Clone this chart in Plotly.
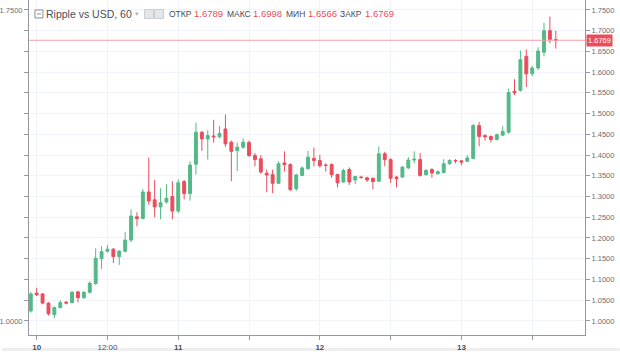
import plotly.graph_objects as go
import pandas as pd

# ---- data (hourly candles, Ripple vs USD) ----
opens = [1.024, 1.067, 1.065, 1.043, 1.015, 1.032, 1.045, 1.044, 1.070, 1.056,
         1.069, 1.090, 1.150, 1.168, 1.173, 1.155, 1.168, 1.195, 1.251, 1.247,
         1.311, 1.292, 1.275, 1.287, 1.300, 1.265, 1.336, 1.307, 1.378, 1.455,
         1.439, 1.446, 1.444, 1.463, 1.431, 1.411, 1.419, 1.430, 1.399, 1.391,
         1.356, 1.353, 1.332, 1.381, 1.377, 1.319, 1.351, 1.367, 1.392, 1.387,
         1.376, 1.377, 1.353, 1.335, 1.365, 1.340, 1.347, 1.345, 1.344, 1.337,
         1.403, 1.389, 1.347, 1.347, 1.369, 1.388, 1.389, 1.353, 1.365, 1.355,
         1.358, 1.379, 1.387, 1.386, 1.385, 1.392, 1.471, 1.447, 1.445, 1.4375,
         1.448, 1.455, 1.554, 1.556, 1.638, 1.596, 1.610, 1.648, 1.700, 1.6789]
highs = [1.070, 1.080, 1.067, 1.045, 1.035, 1.050, 1.048, 1.072, 1.073, 1.072,
         1.095, 1.175, 1.180, 1.183, 1.176, 1.171, 1.215, 1.269, 1.262, 1.318,
         1.394, 1.340, 1.320, 1.330, 1.337, 1.341, 1.340, 1.385, 1.478, 1.458,
         1.460, 1.485, 1.470, 1.498, 1.435, 1.430, 1.440, 1.435, 1.405, 1.400,
         1.365, 1.365, 1.385, 1.409, 1.380, 1.355, 1.373, 1.410, 1.418, 1.400,
         1.380, 1.380, 1.355, 1.367, 1.370, 1.350, 1.350, 1.348, 1.346, 1.421,
         1.408, 1.392, 1.350, 1.373, 1.395, 1.409, 1.405, 1.366, 1.368, 1.363,
         1.390, 1.390, 1.390, 1.388, 1.400, 1.475, 1.480, 1.450, 1.447, 1.452,
         1.470, 1.560, 1.583, 1.652, 1.655, 1.615, 1.660, 1.719, 1.734, 1.6998]
lows = [1.020, 1.060, 1.040, 1.013, 1.007, 1.030, 1.040, 1.042, 1.045, 1.053,
        1.066, 1.087, 1.125, 1.165, 1.140, 1.135, 1.165, 1.190, 1.228, 1.245,
        1.280, 1.250, 1.245, 1.283, 1.245, 1.260, 1.293, 1.290, 1.353, 1.410,
        1.389, 1.430, 1.440, 1.420, 1.337, 1.361, 1.415, 1.395, 1.373, 1.355,
        1.310, 1.308, 1.330, 1.360, 1.313, 1.313, 1.349, 1.365, 1.373, 1.370,
        1.360, 1.345, 1.322, 1.333, 1.328, 1.330, 1.343, 1.335, 1.317, 1.335,
        1.373, 1.333, 1.322, 1.345, 1.366, 1.380, 1.348, 1.350, 1.345, 1.353,
        1.356, 1.377, 1.380, 1.375, 1.383, 1.390, 1.421, 1.435, 1.430, 1.435,
        1.446, 1.452, 1.545, 1.553, 1.564, 1.590, 1.605, 1.638, 1.670, 1.6566]
closes = [1.065, 1.063, 1.043, 1.017, 1.032, 1.044, 1.043, 1.069, 1.056, 1.069,
          1.091, 1.151, 1.167, 1.173, 1.155, 1.168, 1.195, 1.253, 1.247, 1.311,
          1.289, 1.275, 1.285, 1.296, 1.265, 1.333, 1.307, 1.376, 1.455, 1.439,
          1.447, 1.444, 1.452, 1.427, 1.409, 1.419, 1.431, 1.399, 1.389, 1.359,
          1.352, 1.332, 1.379, 1.377, 1.317, 1.352, 1.369, 1.395, 1.387, 1.374,
          1.375, 1.353, 1.333, 1.363, 1.335, 1.348, 1.346, 1.340, 1.336, 1.403,
          1.389, 1.344, 1.343, 1.371, 1.388, 1.390, 1.351, 1.363, 1.357, 1.360,
          1.379, 1.387, 1.386, 1.383, 1.393, 1.471, 1.445, 1.444, 1.4375, 1.449,
          1.457, 1.551, 1.550, 1.630, 1.596, 1.610, 1.651, 1.700, 1.679, 1.6769]
times = pd.date_range("2018-01-09 23:00", periods=len(opens), freq="h")

y_ticks = [1.00, 1.05, 1.10, 1.15, 1.20, 1.25, 1.30, 1.35, 1.40, 1.45,
           1.50, 1.55, 1.60, 1.65, 1.70, 1.75]
left_ticktext = ["1.0000"] + [""] * 14 + ["1.7500"]
x_tickvals = ["2018-01-10 00:00", "2018-01-10 12:00", "2018-01-11 00:00",
              "2018-01-11 12:00", "2018-01-12 00:00", "2018-01-12 12:00",
              "2018-01-13 00:00", "2018-01-13 12:00"]
x_ticktext = ["<b>10</b>", "12:00", "<b>11</b>", "", "<b>12</b>", "", "<b>13</b>", ""]
last_price = 1.6769
header_labels = ["ОТКР", "МАКС", "МИН", "ЗАКР"]
header_values = ["1.6789", "1.6998", "1.6566", "1.6769"]

UP = "#53b987"
DOWN = "#eb4d5c"
AXIS = "#9598a1"
GRID = "#f0f3fa"
TXT = "#6a6d78"
FONT = "Liberation Sans"

W, H = 620, 352
L, R, T, B = 27, 35, 0, 16
PW, PH = W - L - R, H - T - B


def px(x):
    return (x - L) / PW


def py(y):
    return (H - B - y) / PH


fig = go.Figure()
fig.add_trace(go.Candlestick(
    x=times, open=opens, high=highs, low=lows, close=closes,
    increasing=dict(line=dict(color=UP, width=1), fillcolor=UP),
    decreasing=dict(line=dict(color=DOWN, width=1), fillcolor=DOWN),
    whiskerwidth=0, hoverinfo="skip", showlegend=False,
))
# invisible trace to drive the mirrored left price scale
fig.add_trace(go.Scatter(x=times, y=closes, yaxis="y2", mode="lines",
                         line=dict(width=0), opacity=0, hoverinfo="skip",
                         showlegend=False))

yr = [0.966, 1.774]
common_y = dict(range=yr, tickvals=y_ticks,
                ticks="outside", ticklen=4, tickcolor=AXIS,
                showline=True, linecolor=AXIS, linewidth=1,
                tickfont=dict(family=FONT, size=7.5, color=TXT),
                zeroline=False, fixedrange=True)

fig.update_layout(
    width=W, height=H,
    margin=dict(l=L, r=R, t=T, b=B, pad=0),
    paper_bgcolor="white", plot_bgcolor="white",
    font=dict(family=FONT),
    xaxis=dict(
        type="date",
        range=["2018-01-09 22:42", "2018-01-13 20:57"],
        tickvals=x_tickvals, ticktext=x_ticktext,
        ticks="outside", ticklen=4, tickcolor=AXIS,
        showline=True, linecolor=AXIS, linewidth=1,
        showgrid=True, gridcolor=GRID, gridwidth=1,
        tickfont=dict(family=FONT, size=8, color="#4a4d57"),
        rangeslider=dict(visible=False), zeroline=False,
    ),
    yaxis=dict(side="right", showgrid=True, gridcolor=GRID, gridwidth=1,
               tickformat=".4f", **common_y),
    yaxis2=dict(side="left", overlaying="y", showgrid=False,
                ticktext=left_ticktext, **common_y),
    showlegend=False,
)

# last price line and label
fig.add_shape(type="line", xref="paper", yref="y", x0=0, x1=1,
              y0=last_price, y1=last_price,
              line=dict(color="#f4a0a8", width=1))
fig.add_annotation(xref="paper", yref="y", x=px(586), y=last_price,
                   text="1.6769", showarrow=False, xanchor="left",
                   yanchor="middle", bgcolor=DOWN, borderpad=1,
                   font=dict(family=FONT, size=7.5, color="white"))

# bottom grey strip
fig.add_shape(type="rect", xref="paper", yref="paper",
              x0=px(0), x1=px(W), y0=py(H), y1=py(349),
              fillcolor="#eeeeee", line=dict(width=0), layer="below")

# header
hy = py(14)
fig.add_shape(type="rect", xref="paper", yref="paper",
              x0=px(33), x1=px(41), y0=py(18), y1=py(10),
              fillcolor="white", line=dict(color="#8a8d96", width=1))
fig.add_shape(type="line", xref="paper", yref="paper",
              x0=px(35), x1=px(39), y0=py(14), y1=py(14),
              line=dict(color="#8a8d96", width=1))
fig.add_annotation(xref="paper", yref="paper", x=px(42), y=hy,
                   text="Ripple vs USD, 60", showarrow=False,
                   xanchor="left", yanchor="middle",
                   font=dict(family=FONT, size=10.5, color="#4a4d57"))
fig.add_annotation(xref="paper", yref="paper", x=px(131), y=hy, text="▾",
                   showarrow=False, xanchor="left", yanchor="middle",
                   font=dict(family="DejaVu Sans", size=7, color="#b0b3bb"))
for x0 in (143, 153):
    fig.add_shape(type="rect", xref="paper", yref="paper",
                  x0=px(x0), x1=px(x0 + 9), y0=py(18.5), y1=py(9.5),
                  fillcolor="#e4e6ea", line=dict(color="#c8cbd1", width=1))
label_x = [165, 224, 283, 337]
value_x = [191, 250, 305, 362]
for lab, val, lx, vx in zip(header_labels, header_values, label_x, value_x):
    fig.add_annotation(xref="paper", yref="paper", x=px(lx), y=hy, text=lab,
                       showarrow=False, xanchor="left", yanchor="middle",
                       font=dict(family=FONT, size=8.5, color="#4a4d57"))
    fig.add_annotation(xref="paper", yref="paper", x=px(vx), y=hy, text=val,
                       showarrow=False, xanchor="left", yanchor="middle",
                       font=dict(family=FONT, size=9.5, color=DOWN))

fig.write_html("out.html")
